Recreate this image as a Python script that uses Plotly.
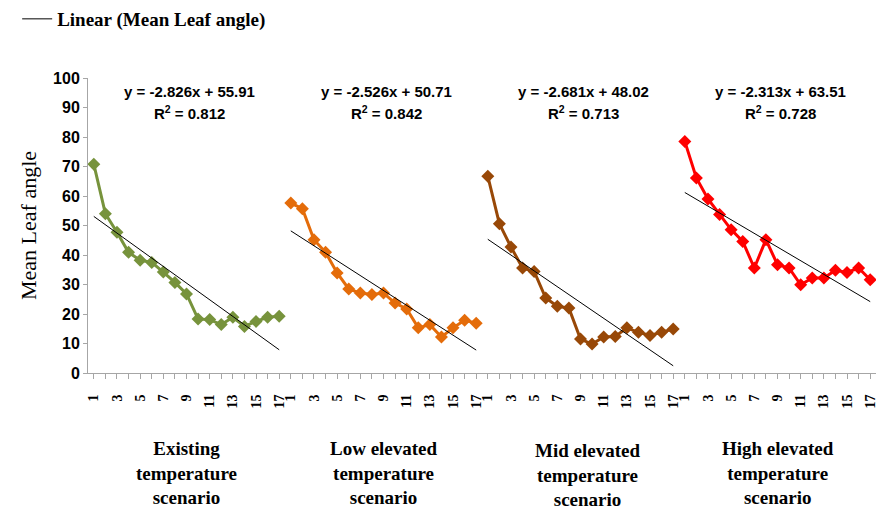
import plotly.graph_objects as go

# Mean leaf angle per time step (1..17) for each temperature scenario
steps = list(range(1, 18))
scenarios = [
    "Existing<br>temperature<br>scenario",
    "Low elevated<br>temperature<br>scenario",
    "Mid elevated<br>temperature<br>scenario",
    "High elevated<br>temperature<br>scenario",
]
existing = [70.8, 54.0, 47.7, 40.9, 38.2, 37.5, 34.2, 30.7, 26.8, 18.3, 18.1, 16.4, 18.9, 15.8, 17.5, 18.9, 19.2]
low_elev = [57.6, 55.7, 45.2, 40.9, 33.9, 28.5, 27.1, 26.6, 27.1, 23.7, 21.7, 15.3, 16.4, 12.2, 15.3, 17.9, 16.9]
mid_elev = [66.7, 50.6, 42.7, 35.6, 34.4, 25.4, 22.6, 22.0, 11.5, 9.8, 12.2, 12.4, 15.3, 13.8, 12.7, 13.8, 14.9]
high_elev = [78.5, 66.1, 59.0, 53.7, 48.6, 44.6, 35.6, 45.2, 36.7, 35.6, 29.9, 32.2, 32.2, 34.8, 34.1, 35.6, 31.6]
series = [existing, low_elev, mid_elev, high_elev]

# Linear trend fits: y = slope*x + intercept, with R^2
slopes = [-2.826, -2.526, -2.681, -2.313]
intercepts = [55.91, 50.71, 48.02, 63.51]
r2_values = [0.812, 0.842, 0.713, 0.728]

colors = ["#77933C", "#E46C0A", "#984807", "#FF0000"]

serif = "Liberation Serif, Times New Roman, serif"
sans = "Liberation Sans, Arial, sans-serif"

n = len(steps)
fig = go.Figure()

tickvals, ticktext = [], []
for g, vals in enumerate(series):
    xs = [g * n + i for i in range(n)]
    fig.add_trace(go.Scatter(
        x=xs, y=vals, mode="lines+markers",
        line=dict(color=colors[g], width=3),
        marker=dict(symbol="diamond", size=10, color=colors[g]),
        showlegend=False, hoverinfo="y",
    ))
    trend_x = [xs[0], xs[-1]]
    trend_y = [slopes[g] * steps[0] + intercepts[g], slopes[g] * steps[-1] + intercepts[g]]
    fig.add_trace(go.Scatter(
        x=trend_x, y=trend_y, mode="lines",
        line=dict(color="black", width=1),
        name="Linear (Mean Leaf angle)",
        showlegend=(g == 0), hoverinfo="skip",
    ))
    for i, s in enumerate(steps):
        if i % 2 == 0:
            tickvals.append(xs[i])
            ticktext.append(str(s))

    center = g * n + (n - 1) / 2
    fig.add_annotation(
        x=center + 0.3, y=95.5, xref="x", yref="y",
        text=f"y = {slopes[g]:.3f}x + {intercepts[g]:.2f}",
        showarrow=False, font=dict(family=sans, size=15, color="black", weight="bold"),
    )
    fig.add_annotation(
        x=center + 0.3, y=88.2, xref="x", yref="y",
        text=f"R<sup>2</sup> = {r2_values[g]:.3f}",
        showarrow=False, font=dict(family=sans, size=15, color="black", weight="bold"),
    )
    fig.add_annotation(
        x=center + (0.6 if g == 2 else 0.0), y=-0.213 if g != 2 else -0.222,
        xref="x", yref="paper", yanchor="top",
        text=f"<b>{scenarios[g]}</b>",
        showarrow=False, font=dict(family=serif, size=19, color="black"),
    )

fig.update_layout(
    width=885, height=509,
    margin=dict(l=88, r=7, t=78, b=136),
    paper_bgcolor="white", plot_bgcolor="white",
    legend=dict(
        xref="paper", yref="container",
        x=-0.0899, y=1.0, xanchor="left", yanchor="top",
        font=dict(family=serif, size=19, color="black", weight="bold"),
        bgcolor="rgba(0,0,0,0)",
    ),
    xaxis=dict(
        range=[-0.5, 4 * n - 0.5],
        tickmode="array", tickvals=tickvals, ticktext=ticktext,
        tickangle=-90, ticks="outside", ticklen=5, tickcolor="#A6A6A6",
        ticklabelstandoff=10,
        tickfont=dict(family=serif, size=14, color="black", weight="bold"),
        minor=dict(dtick=1, tick0=0, ticks="outside", ticklen=5, tickcolor="#A6A6A6"),
        showline=True, linecolor="#A6A6A6", linewidth=1,
        showgrid=False, zeroline=False,
    ),
    yaxis=dict(
        range=[0, 100], dtick=10,
        ticks="outside", ticklen=4, tickcolor="#A6A6A6",
        tickfont=dict(family=sans, size=16, color="black", weight="bold"),
        showline=True, linecolor="#A6A6A6", linewidth=1,
        showgrid=False, zeroline=False,
        title=dict(text="Mean Leaf angle", font=dict(family=serif, size=22, color="black"), standoff=10),
    ),
)

fig.write_html("out.html")
